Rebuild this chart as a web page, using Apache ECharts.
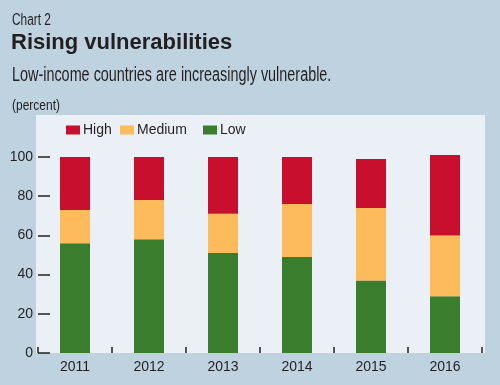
<!DOCTYPE html>
<html>
<head>
<meta charset="utf-8">
<script src="https://cdn.jsdelivr.net/npm/echarts@6/dist/echarts.min.js"></script>
<style>
html,body{margin:0;padding:0;background:#bed2e0;}
#c{width:500px;height:385px;}
</style>
</head>
<body>
<div id="c"></div>
<script>
var categories = ['2011', '2012', '2013', '2014', '2015', '2016'];
var lowValues = [56, 58, 51, 49, 37, 29];
var mediumValues = [17, 20, 20, 27, 37, 31];
var highValues = [27, 22, 29, 24, 25, 41];
var yTicks = [0, 20, 40, 60, 80, 100];
var seriesNames = ['High', 'Medium', 'Low'];

var FONT = '"Liberation Sans", Arial, sans-serif';
var TXT = '#231f20';
var legendLeft = [66, 120, 203];
var chart = echarts.init(document.getElementById('c'));
chart.setOption({
  backgroundColor: '#bed2e0',
  animation: false,
  graphic: [
    {type: 'rect', z: -10, shape: {x: 36, y: 115, width: 449, height: 238}, style: {fill: '#ebf0f6'}},
    {type: 'text', x: 12, y: 13, scaleX: 0.74, style: {text: 'Chart 2', font: '16px ' + FONT, fill: TXT}},
    {type: 'text', x: 11, y: 32, style: {text: 'Rising vulnerabilities', font: 'bold 22px ' + FONT, fill: TXT}},
    {type: 'text', x: 12, y: 65, scaleX: 0.72, style: {text: 'Low-income countries are increasingly vulnerable.', font: '20px ' + FONT, fill: TXT}},
    {type: 'text', x: 12, y: 98, scaleX: 0.8, style: {text: '(percent)', font: '15px ' + FONT, fill: TXT}}
  ],
  legend: seriesNames.map(function (n, i) {
    return {
      left: legendLeft[i], top: 123,
      itemWidth: 14, itemHeight: 9, itemGap: 0, padding: 0,
      icon: 'rect',
      data: [n],
      textStyle: {fontFamily: FONT, fontSize: 14, color: TXT, padding: [1, 0, 0, -2]}
    };
  }),
  grid: {left: 38, right: 18, top: 157, bottom: 32},
  xAxis: {
    type: 'category',
    data: categories,
    axisLine: {show: false},
    axisTick: {show: true, inside: true, length: 6, lineStyle: {color: TXT, width: 1.5}},
    axisLabel: {fontFamily: FONT, fontSize: 14, color: TXT, margin: 7}
  },
  yAxis: {
    type: 'value',
    min: 0, max: 100, interval: 20,
    splitLine: {show: false},
    axisLine: {show: false},
    axisTick: {show: true, inside: true, length: 12, lineStyle: {color: TXT, width: 1.5}},
    axisLabel: {fontFamily: FONT, fontSize: 14, color: TXT, margin: 5,
      formatter: function (v) { return yTicks.indexOf(v) >= 0 ? String(v) : ''; }}
  },
  series: [
    {name: 'Low', type: 'bar', stack: 'a', data: lowValues, barWidth: 30, clip: false, itemStyle: {color: '#3a7d2d'}},
    {name: 'Medium', type: 'bar', stack: 'a', data: mediumValues, barWidth: 30, clip: false, itemStyle: {color: '#fdbb5c'}},
    {name: 'High', type: 'bar', stack: 'a', data: highValues, barWidth: 30, clip: false, itemStyle: {color: '#c8102e'}}
  ]
});
</script>
</body>
</html>
